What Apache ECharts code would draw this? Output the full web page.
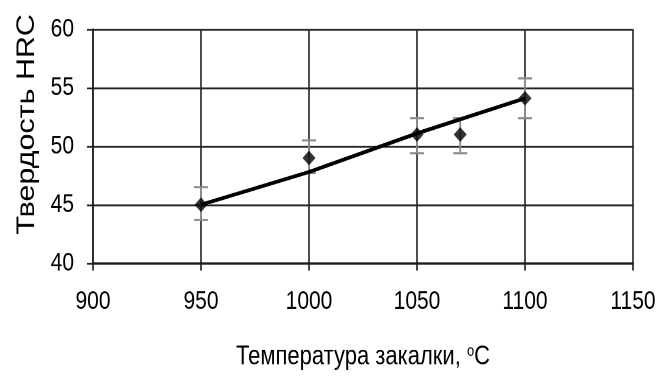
<!DOCTYPE html>
<html>
<head>
<meta charset="utf-8">
<script src="https://cdn.jsdelivr.net/npm/echarts@6/dist/echarts.min.js"></script>
<style>
  html, body { margin: 0; padding: 0; background: #fff; overflow: hidden; }
  #wrap { width: 660px; height: 379px; overflow: hidden; }
  /* the source picture is stretched vertically, so the chart is too */
  #chart { width: 660px; height: 311px; transform-origin: 0 0; transform: scaleY(1.2186); }
</style>
</head>
<body>
<div id="wrap"><div id="chart"></div></div>
<script>
// measured points (temperature, hardness) with error bar ends
const temps = [950, 1000, 1050, 1070, 1100];
const hardness = [45, 49, 51, 51, 54.1];
const errLow = [43.7, 47.7, 49.4, 49.4, 52.4];
const errHigh = [46.5, 50.5, 52.4, 52.4, 55.8];

// trend line
const trendX = [950, 1000, 1050, 1100];
const trendY = [45, 47.8, 51.1, 54.1];

const xTicks = [900, 950, 1000, 1050, 1100, 1150];
const yTicks = [40, 45, 50, 55, 60];

const font = '"Liberation Sans", Arial, sans-serif';

let chart = echarts.init(document.getElementById('chart'), null, { renderer: 'canvas', devicePixelRatio: 2 });

let points = temps.map((t, i) => [t, hardness[i]]);
let bars = temps.map((t, i) => [t, errLow[i], errHigh[i]]);
let trend = trendX.map((t, i) => [t, trendY[i]]);

chart.setOption({
    backgroundColor: '#fff',
    animation: false,
    grid: { left: 93, right: 27, top: 24, bottom: 95 },
    xAxis: {
        type: 'value',
        min: xTicks[0],
        max: xTicks[xTicks.length - 1],
        interval: 50,
        name: 'Температура закалки, {sup|o}C',
        nameLocation: 'middle',
        nameGap: 66,
        nameTextStyle: {
            fontFamily: font, fontSize: 22, color: '#000',
            rich: { sup: { fontFamily: font, fontSize: 13, verticalAlign: 'top', padding: [0, 0, 9, 0] } }
        },
        axisLine: { lineStyle: { color: '#1a1a1a', width: 1.6 } },
        axisTick: { show: true, length: 6, lineStyle: { color: '#1a1a1a', width: 1.6 } },
        axisLabel: { margin: 21, fontFamily: font, fontSize: 21, color: '#000', formatter: v => String(v) },
        splitLine: { show: true, lineStyle: { color: '#222', width: 1.6 } }
    },
    yAxis: {
        type: 'value',
        min: yTicks[0],
        max: yTicks[yTicks.length - 1],
        interval: 5,
        name: 'Твердость HRC',
        nameLocation: 'middle',
        nameGap: 53,
        nameTextStyle: { fontFamily: font, fontSize: 25, color: '#000', padding: [0, 0, 0, 36] },
        axisLine: { show: true, lineStyle: { color: '#1a1a1a', width: 1.6 } },
        axisTick: { show: true, length: 6, lineStyle: { color: '#1a1a1a', width: 1.4 } },
        axisLabel: { margin: 19, fontFamily: font, fontSize: 21, color: '#000' },
        splitLine: { show: true, lineStyle: { color: '#222', width: 1.4 } }
    },
    series: [
        {
            // error bars
            type: 'custom',
            data: bars,
            z: 2,
            renderItem: function (params, api) {
                let x = api.value(0);
                let lo = api.coord([x, api.value(1)]);
                let hi = api.coord([x, api.value(2)]);
                let cap = 7;
                let style = { stroke: '#8c8c8c', lineWidth: 1.8 };
                return {
                    type: 'group',
                    children: [
                        { type: 'line', shape: { x1: lo[0], y1: lo[1], x2: hi[0], y2: hi[1] }, style: style },
                        { type: 'line', shape: { x1: lo[0] - cap, y1: lo[1], x2: lo[0] + cap, y2: lo[1] }, style: style },
                        { type: 'line', shape: { x1: hi[0] - cap, y1: hi[1], x2: hi[0] + cap, y2: hi[1] }, style: style }
                    ]
                };
            }
        },
        {
            type: 'line',
            data: trend,
            z: 3,
            showSymbol: false,
            symbol: 'none',
            lineStyle: { color: '#000', width: 3.2 }
        },
        {
            type: 'scatter',
            data: points,
            z: 4,
            symbol: 'diamond',
            symbolSize: [13, 12],
            itemStyle: { color: '#000' }
        }
    ]
});
</script>
</body>
</html>
